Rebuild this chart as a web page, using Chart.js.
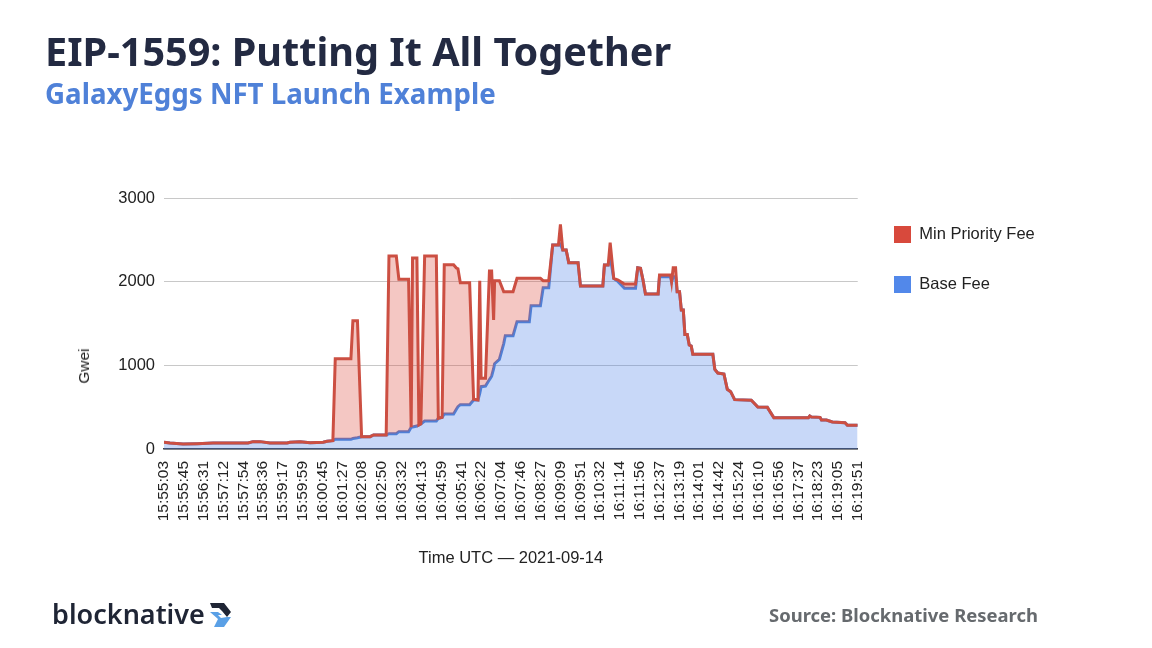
<!DOCTYPE html>
<html>
<head>
<meta charset="utf-8">
<title>EIP-1559: Putting It All Together</title>
<script src="https://cdn.jsdelivr.net/npm/chart.js@4/dist/chart.umd.min.js"></script>
<style>
  html, body { margin: 0; padding: 0; background: #fff; }
  #page { position: relative; width: 1152px; height: 648px; overflow: hidden; }
  #chart { position: absolute; left: 0; top: 0; }
  .text { position: absolute; white-space: nowrap; font-family: "Noto Sans", sans-serif; font-weight: 700; }
  #title { left: 45px; top: 24px; font-size: 39.6px; line-height: 54px; color: #232a42; }
  #subtitle { left: 45px; top: 74px; font-size: 27.7px; line-height: 38px; color: #4f81d8; }
  #source { left: 769px; top: 602px; font-size: 18.45px; line-height: 26px; color: #666a6e; }
  #brand { left: 52px; top: 594px; font-size: 27px; line-height: 40px; font-weight: 600; color: #1f2535; }
  #gwei { left: 84px; top: 366px; font-family: "Liberation Sans", Arial, sans-serif; font-weight: 400; font-size: 15.5px; color: #222; transform: translate(-50%, -50%) rotate(-90deg); }
  #mark { position: absolute; left: 209px; top: 602px; }
</style>
</head>
<body>
<div id="page">
  <canvas id="chart" width="1152" height="648"></canvas>
  <div class="text" id="title">EIP-1559: Putting It All Together</div>
  <div class="text" id="subtitle">GalaxyEggs NFT Launch Example</div>
  <div class="text" id="gwei">Gwei</div>
  <div class="text" id="brand">blocknative</div>
  <svg id="mark" width="23" height="26" viewBox="0 0 23 26">
    <polygon points="1,1 15,1 22,10 18,15 13,9 10,6 3,6" fill="#1f2535"/>
    <polygon points="1,10 9,10 13,13 9,13 12,16 18,15 22,15 15,25 5,25 9,17" fill="#5aa0e6"/>
  </svg>
  <div class="text" id="source">Source: Blocknative Research</div>
</div>
<script>
const tickLabels = [
  "15:55:03", "15:55:45", "15:56:31", "15:57:12", "15:57:54", "15:58:36",
  "15:59:17", "15:59:59", "16:00:45", "16:01:27", "16:02:08", "16:02:50",
  "16:03:32", "16:04:13", "16:04:59", "16:05:41", "16:06:22", "16:07:04",
  "16:07:46", "16:08:27", "16:09:09", "16:09:51", "16:10:32", "16:11:14",
  "16:11:56", "16:12:37", "16:13:19", "16:14:01", "16:14:42", "16:15:24",
  "16:16:10", "16:16:56", "16:17:37", "16:18:23", "16:19:05", "16:19:51"
];

// position along the axis, counted in tick labels
const samplePos = [
  0, 0.3, 0.96, 1.67, 2.47, 4.24, 4.49, 4.85, 5.35, 6.21, 6.36, 6.87, 7.37, 8.03, 8.23, 8.52,
  8.64, 9.43, 9.53, 9.76, 9.97, 10.4, 10.57, 11.21, 11.35, 11.72, 11.85, 12.34, 12.47, 12.54,
  12.76, 12.86, 12.96, 13.15, 13.74, 13.84, 14.03, 14.14, 14.61, 14.75, 14.83, 14.95, 15.42,
  15.62, 15.84, 15.93, 16, 16.22, 16.42, 16.53, 16.63, 16.68, 16.92, 17.14, 17.22, 17.61, 17.81,
  18.43, 18.52, 18.99, 19.13, 19.41, 19.61, 19.9, 20, 20.12, 20.29, 20.42, 20.89, 21.01, 22.14,
  22.22, 22.41, 22.51, 22.69, 22.91, 23.23, 23.79, 23.9, 24.04, 24.16, 24.29, 24.93, 25, 25.56,
  25.61, 25.69, 25.81, 25.89, 26.01, 26.1, 26.2, 26.28, 26.4, 26.5, 26.6, 26.68, 27.69, 27.79,
  27.94, 28.25, 28.42, 28.59, 28.79, 29.63, 29.73, 29.96, 30.44, 30.77, 32.51, 32.58, 32.66,
  33.1, 33.17, 33.42, 33.72, 34.36, 34.48, 35
];

// top of the stack as drawn: base fee plus min priority fee
const minPriorityFee = [
  80, 72, 60, 64, 72, 72, 88, 88, 72, 72, 80, 88, 76, 80, 92, 100,
  1080, 1080, 1534, 1534, 147, 147, 167, 167, 2307, 2307, 2028, 2028, 259, 2283,
  2283, 287, 300, 2307, 2307, 367, 378, 2203, 2203, 2163, 2155, 1988, 1988,
  594, 586, 2012, 845, 845, 2127, 2127, 1542, 2012, 2012, 1880, 1880, 1880, 2040,
  2040, 2040, 2040, 2012, 2012, 2438, 2438, 2685, 2378, 2378, 2227, 2227, 1948, 1948,
  2199, 2199, 2466, 2040, 2020, 1972, 1972, 2167, 2160, 2028, 1853, 1853, 2080, 2080,
  2000, 2167, 2167, 1880, 1880, 1661, 1661, 1370, 1370, 1243, 1231, 1131, 1131, 952,
  908, 896, 713, 685, 590, 582, 558, 502, 498, 374, 374, 394, 382,
  378, 347, 347, 323, 315, 283, 283
];

const baseFee = [
  80, 72, 60, 64, 72, 72, 88, 88, 72, 72, 80, 88, 76, 80, 92, 100,
  116, 116, 125, 135, 147, 147, 167, 167, 183, 183, 207, 207, 259, 262,
  275, 287, 300, 335, 335, 367, 378, 418, 418, 475, 505, 530, 530,
  586, 586, 665, 745, 753, 830, 870, 960, 1020, 1072, 1260, 1355, 1355, 1522,
  1522, 1713, 1713, 1928, 1928, 2438, 2438, 2450, 2378, 2378, 2227, 2227, 1948, 1948,
  2199, 2199, 2300, 2040, 2000, 1920, 1920, 2167, 2160, 2028, 1853, 1853, 2060, 2060,
  2000, 2060, 2060, 1880, 1880, 1661, 1661, 1370, 1370, 1243, 1231, 1131, 1131, 952,
  908, 896, 713, 685, 590, 582, 558, 502, 498, 374, 374, 394, 382,
  378, 347, 347, 323, 315, 283, 283
];

const axisFont = "'Liberation Sans', Arial, sans-serif";

function toPoints(values) {
  return values.map((value, i) => ({ x: samplePos[i], y: value }));
}

// puts the legend where the reference has it, right of the plot
const legendPlacement = {
  id: "legendPlacement",
  afterLayout(chart) {
    const legend = chart.legend;
    const width = legend.right - legend.left;
    const height = legend.bottom - legend.top;
    legend.left = 861;
    legend.right = 861 + width;
    legend.top = 193;
    legend.bottom = 193 + height;
  }
};

new Chart(document.getElementById("chart").getContext("2d"), {
  type: "line",
  data: {
    datasets: [
      {
        label: "Min Priority Fee",
        data: toPoints(minPriorityFee),
        borderColor: "#cc4f42",
        backgroundColor: "#d8493c",
        borderWidth: 3,
        pointRadius: 0,
        tension: 0,
        fill: { target: "+1", above: "rgba(219, 68, 55, 0.3)", below: "rgba(219, 68, 55, 0)" }
      },
      {
        label: "Base Fee",
        data: toPoints(baseFee),
        borderColor: "#4f7fd6",
        backgroundColor: "#5288ea",
        borderWidth: 3,
        pointRadius: 0,
        tension: 0,
        fill: { target: "origin", above: "rgba(74, 126, 232, 0.3)" }
      }
    ]
  },
  plugins: [legendPlacement],
  options: {
    responsive: false,
    animation: false,
    layout: { padding: { left: 70, right: 110.5, top: 198, bottom: 80 } },
    plugins: {
      tooltip: { enabled: false },
      legend: {
        position: "right",
        align: "start",
        labels: {
          boxWidth: 17,
          boxHeight: 17,
          padding: 33,
          color: "#222",
          font: { family: axisFont, size: 16.5 },
          generateLabels(chart) {
            const items = Chart.defaults.plugins.legend.labels.generateLabels(chart);
            return items.map((item) => ({ ...item, strokeStyle: item.fillStyle, lineWidth: 0 }));
          }
        }
      }
    },
    scales: {
      x: {
        type: "linear",
        min: 0,
        max: 35,
        afterFit(scale) { scale.height = 119; },
        grid: { display: false },
        border: { color: "#3d4048", width: 1.5 },
        ticks: {
          stepSize: 1,
          autoSkip: false,
          minRotation: 90,
          maxRotation: 90,
          padding: 4,
          color: "#222",
          font: { family: axisFont, size: 15.5 },
          callback: (value) => tickLabels[value]
        },
        title: {
          display: true,
          text: "Time UTC — 2021-09-14",
          color: "#222",
          padding: { top: 20, bottom: 0 },
          font: { family: axisFont, size: 16.5 }
        }
      },
      y: {
        min: 0,
        max: 3000,
        afterFit(scale) { scale.width = 94; },
        grid: { color: "#c8c8c8", drawTicks: false },
        border: { display: false },
        ticks: {
          stepSize: 1000,
          padding: 9,
          color: "#222",
          font: { family: axisFont, size: 16.5 },
          callback: (value) => String(value)
        }
      }
    }
  }
});
</script>
</body>
</html>
